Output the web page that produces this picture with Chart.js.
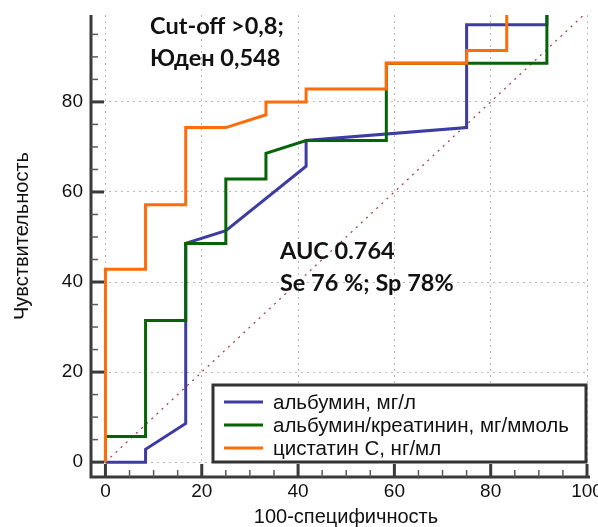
<!DOCTYPE html>
<html>
<head>
<meta charset="utf-8">
<script src="https://cdn.jsdelivr.net/npm/chart.js@4.4.1/dist/chart.umd.min.js"></script>
<style>
  html, body { margin: 0; padding: 0; background: #fff; }
  #wrap { width: 598px; height: 527px; }
</style>
</head>
<body>
<div id="wrap"><canvas id="rocChart" width="598" height="527"></canvas></div>
<script>
// ROC curves, x = 100-specificity, y = sensitivity (%)
const albuminX = [0, 8.33, 8.33, 16.67, 16.67, 25, 41.67, 41.67, 75, 75, 91.67, 91.67, 100];
const albuminY = [0, 0, 2.86, 8.57, 48.57, 51.43, 65.71, 71.43, 74.29, 97.14, 97.14, 100, 100];

const ratioX = [0, 0, 8.33, 8.33, 16.67, 16.67, 25, 25, 33.33, 33.33, 41.67, 58.33, 58.33, 91.67, 91.67];
const ratioY = [0, 5.71, 5.71, 31.43, 31.43, 48.57, 48.57, 62.86, 62.86, 68.57, 71.43, 71.43, 88.57, 88.57, 100];

const cystatinX = [0, 0, 8.33, 8.33, 16.67, 16.67, 25, 33.33, 33.33, 41.67, 41.67, 58.33, 58.33, 75, 75, 83.33, 83.33, 100];
const cystatinY = [0, 42.86, 42.86, 57.14, 57.14, 74.29, 74.29, 77.14, 80, 80, 82.86, 82.86, 88.57, 88.57, 91.43, 91.43, 100, 100];

const chanceX = [0, 100];
const chanceY = [0, 100];

const seriesLabels = ['альбумин, мг/л', 'альбумин/креатинин, мг/ммоль', 'цистатин С, нг/мл'];
const seriesColors = ['#3c3ca2', '#056405', '#ff6c0a'];
const notesTop = ['Cut-off >0,8;', 'Юден 0,548'];
const notesMid = ['AUC 0.764', 'Se 76 %; Sp 78%'];
const xTitle = '100-специфичность';
const yTitle = 'Чувствительность';

const toPoints = (xs, ys) => xs.map((x, i) => ({ x: x, y: ys[i] }));

const rocDecor = {
    id: 'rocDecor',
    afterDatasetsDraw(chart) {
        const { ctx, chartArea: a, scales: { x, y } } = chart;
        ctx.save();

        // axis lines
        ctx.strokeStyle = '#3a3a3a';
        ctx.lineWidth = 3;
        ctx.beginPath();
        ctx.moveTo(a.left, a.top);
        ctx.lineTo(a.left, a.bottom);
        ctx.lineTo(a.right + 3, a.bottom);
        ctx.stroke();

        // inward tick marks, major every 20, minor every 5
        for (let v = 0; v <= 100; v += 5) {
            const major = v % 20 === 0;
            ctx.strokeStyle = major ? '#3a3a3a' : '#5a5a5a';
            ctx.lineWidth = major ? 3 : 1.5;
            const len = major ? 13 : 7;
            const px = x.getPixelForValue(v);
            ctx.beginPath();
            ctx.moveTo(px, a.bottom);
            ctx.lineTo(px, a.bottom - len);
            ctx.stroke();
            if (v <= y.max) {
                const py = y.getPixelForValue(v);
                ctx.beginPath();
                ctx.moveTo(a.left, py);
                ctx.lineTo(a.left + len, py);
                ctx.stroke();
            }
        }

        // axis titles
        ctx.fillStyle = '#111';
        ctx.font = '20px "Liberation Sans", Arial, sans-serif';
        ctx.textAlign = 'center';
        ctx.textBaseline = 'middle';
        ctx.fillText(xTitle, 346, 517);
        ctx.save();
        ctx.translate(22, 236);
        ctx.rotate(-Math.PI / 2);
        ctx.fillText(yTitle, 0, 0);
        ctx.restore();

        // legend box
        const lx = 213, ly = 385, lw = 373, lh = 77;
        ctx.fillStyle = '#fff';
        ctx.fillRect(lx, ly, lw, lh);
        ctx.strokeStyle = '#333';
        ctx.lineWidth = 3;
        ctx.strokeRect(lx, ly, lw, lh);
        ctx.textAlign = 'left';
        ctx.font = '20.5px "Liberation Sans", Arial, sans-serif';
        const rows = [402, 425, 448];
        chart.data.datasets.slice(0, 3).forEach((ds, i) => {
            ctx.strokeStyle = ds.borderColor;
            ctx.lineWidth = 3;
            ctx.beginPath();
            ctx.moveTo(224, rows[i]);
            ctx.lineTo(263, rows[i]);
            ctx.stroke();
            ctx.fillStyle = '#111';
            ctx.fillText(ds.label, 273, rows[i] + 1);
        });

        // annotations
        ctx.fillStyle = '#111';
        ctx.font = 'bold 23.5px Lato, "Open Sans", sans-serif';
        ctx.textBaseline = 'alphabetic';
        ctx.fillText(notesTop[0], 150, 34);
        ctx.fillText(notesTop[1], 150, 66);
        ctx.fillText(notesMid[0], 280, 259);
        ctx.fillText(notesMid[1], 280, 291);
        ctx.restore();
    }
};

const tickFont = { family: 'Liberation Sans', size: 19 };

new Chart(document.getElementById('rocChart').getContext('2d'), {
    type: 'scatter',
    data: {
        datasets: [
            { label: seriesLabels[0], data: toPoints(albuminX, albuminY), borderColor: seriesColors[0], order: 3 },
            { label: seriesLabels[1], data: toPoints(ratioX, ratioY), borderColor: seriesColors[1], order: 2 },
            { label: seriesLabels[2], data: toPoints(cystatinX, cystatinY), borderColor: seriesColors[2], order: 1 },
            { label: 'chance', data: toPoints(chanceX, chanceY), borderColor: '#a8323c', borderWidth: 1.2, borderDash: [2, 5], order: 4 }
        ].map(ds => Object.assign({ showLine: true, pointRadius: 0, borderWidth: 3, tension: 0, fill: false }, ds))
    },
    options: {
        responsive: false,
        animation: false,
        devicePixelRatio: 1,
        layout: { padding: { left: 0, right: 11, top: 15, bottom: 0 } },
        plugins: { legend: { display: false }, tooltip: { enabled: false } },
        scales: {
            x: {
                type: 'linear', min: -3, max: 100,
                afterFit(s) { s.height = 50; s.paddingLeft = 0; s.paddingRight = 0; },
                grid: { color: '#b8b8b8', lineWidth: 1, drawTicks: false },
                border: { display: false, dash: [2, 4] },
                ticks: { stepSize: 20, includeBounds: false, padding: 3, color: '#111', font: tickFont, maxRotation: 0, autoSkip: false }
            },
            y: {
                type: 'linear', min: -3.3, max: 99.3,
                afterFit(s) { s.width = 91; s.paddingTop = 0; s.paddingBottom = 0; },
                grid: { color: '#b8b8b8', lineWidth: 1, drawTicks: false },
                border: { display: false, dash: [2, 4] },
                ticks: { stepSize: 20, includeBounds: false, padding: 8, color: '#111', font: tickFont }
            }
        }
    },
    plugins: [rocDecor]
});
</script>
</body>
</html>
